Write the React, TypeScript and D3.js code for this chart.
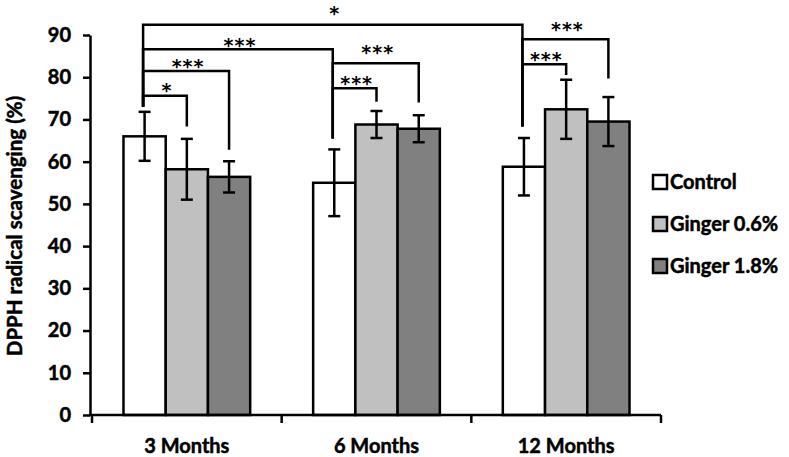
import { useEffect, useRef } from "react";
import * as d3 from "d3";

const categories = ["3 Months", "6 Months", "12 Months"];
const seriesNames = ["Control", "Ginger 0.6%", "Ginger 1.8%"];
const seriesColors = ["#ffffff", "#c0c0c0", "#808080"];

// mean and standard deviation per series, one value per category
const controlMean = [66.0, 55.0, 58.8];
const ginger06Mean = [58.2, 68.8, 72.4];
const ginger18Mean = [56.4, 67.8, 69.5];
const controlSd = [5.8, 7.9, 6.8];
const ginger06Sd = [7.2, 3.2, 7.0];
const ginger18Sd = [3.7, 3.2, 5.8];

const yTicks = [0, 10, 20, 30, 40, 50, 60, 70, 80, 90];

// significance brackets: [category, series] pairs, values in chart units
interface Bracket {
  from: [number, number];
  to: [number, number];
  level: number;
  fromDrop: number;
  toDrop: number;
  label: string;
  labelAt: number;
}

const brackets: Bracket[] = [
  { from: [0, 0], to: [2, 0], level: 92.4, fromDrop: 73.0, toDrop: 68.3, label: "*", labelAt: 95.9 },
  { from: [0, 0], to: [1, 0], level: 86.6, fromDrop: 73.0, toDrop: 65.5, label: "***", labelAt: 88.4 },
  { from: [0, 0], to: [0, 1], level: 75.6, fromDrop: 73.0, toDrop: 68.3, label: "*", labelAt: 77.8 },
  { from: [0, 0], to: [0, 2], level: 81.5, fromDrop: 73.0, toDrop: 62.8, label: "***", labelAt: 83.3 },
  { from: [1, 0], to: [1, 1], level: 77.4, fromDrop: 65.5, toDrop: 74.2, label: "***", labelAt: 79.3 },
  { from: [1, 0], to: [1, 2], level: 83.3, fromDrop: 65.5, toDrop: 74.0, label: "***", labelAt: 86.6 },
  { from: [2, 0], to: [2, 1], level: 83.1, fromDrop: 68.3, toDrop: 80.5, label: "***", labelAt: 85.0 },
  { from: [2, 0], to: [2, 2], level: 89.0, fromDrop: 68.3, toDrop: 79.7, label: "***", labelAt: 92.1 },
];

const width = 789;
const height = 457;
const FONT = "Lato, 'Open Sans', sans-serif";

export default function App() {
  const svgRef = useRef<SVGSVGElement>(null);

  useEffect(() => {
    if (!svgRef.current) return;
    const svg = d3.select(svgRef.current);
    svg.selectAll("*").remove();

    const means = [controlMean, ginger06Mean, ginger18Mean];
    const sds = [controlSd, ginger06Sd, ginger18Sd];

    const x0 = d3.scaleBand<string>().domain(categories).range([92, 661]);
    const bw = x0.bandwidth();
    const x1 = d3
      .scaleBand<string>()
      .domain(seriesNames)
      .range([bw * 0.166, bw * 0.834]);
    const y = d3.scaleLinear().domain([0, 90]).range([415, 35]);

    const barCenter = (c: number, s: number) =>
      (x0(categories[c]) ?? 0) + (x1(seriesNames[s]) ?? 0) + x1.bandwidth() / 2;

    // bars
    seriesNames.forEach((name, s) => {
      svg
        .append("g")
        .selectAll("rect")
        .data(categories)
        .join("rect")
        .attr("x", (c) => (x0(c) ?? 0) + (x1(name) ?? 0))
        .attr("y", (_, i) => y(means[s][i]))
        .attr("width", x1.bandwidth())
        .attr("height", (_, i) => y(0) - y(means[s][i]))
        .attr("fill", seriesColors[s])
        .attr("stroke", "#000")
        .attr("stroke-width", 2.5);
    });

    // error bars
    const eb = svg.append("g").attr("stroke", "#000").attr("stroke-width", 2.5);
    seriesNames.forEach((_, s) => {
      categories.forEach((_, c) => {
        const cx = barCenter(c, s);
        const hi = y(means[s][c] + sds[s][c]);
        const lo = y(means[s][c] - sds[s][c]);
        eb.append("line").attr("x1", cx).attr("x2", cx).attr("y1", hi).attr("y2", lo);
        eb.append("line").attr("x1", cx - 6).attr("x2", cx + 6).attr("y1", hi).attr("y2", hi);
        eb.append("line").attr("x1", cx - 6).attr("x2", cx + 6).attr("y1", lo).attr("y2", lo);
      });
    });

    // y axis
    const yAxis = svg
      .append("g")
      .attr("transform", "translate(90,0)")
      .call(d3.axisLeft(y).tickValues(yTicks).tickSize(7).tickSizeOuter(0).tickPadding(12));
    yAxis.select(".domain").attr("stroke-width", 2.5);
    yAxis.selectAll(".tick line").attr("stroke-width", 2.5);
    yAxis
      .selectAll(".tick text")
      .attr("font-family", FONT)
      .attr("font-weight", "bold")
      .attr("font-size", 20)
      .attr("fill", "#000")
      .attr("stroke", "#000")
      .attr("stroke-width", 0.5);

    // x axis with ticks at category boundaries
    const xg = svg.append("g").attr("stroke", "#000").attr("stroke-width", 2.5);
    xg.append("line").attr("x1", 89).attr("x2", 661).attr("y1", y(0)).attr("y2", y(0));
    [...categories.map((c) => x0(c) ?? 0), x0.range()[1]].forEach((tx) => {
      xg.append("line").attr("x1", tx).attr("x2", tx).attr("y1", y(0)).attr("y2", y(0) + 8);
    });
    svg
      .append("g")
      .selectAll("text")
      .data(categories)
      .join("text")
      .attr("x", (c) => (x0(c) ?? 0) + bw / 2)
      .attr("y", 453)
      .attr("text-anchor", "middle")
      .attr("font-family", FONT)
      .attr("font-weight", "bold")
      .attr("font-size", 20)
      .attr("stroke", "#000")
      .attr("stroke-width", 0.5)
      .text((c) => c);

    // y axis title
    svg
      .append("text")
      .attr("transform", "translate(22,226) rotate(-90)")
      .attr("text-anchor", "middle")
      .attr("font-family", FONT)
      .attr("font-weight", "bold")
      .attr("font-size", 20.5)
      .attr("stroke", "#000")
      .attr("stroke-width", 0.5)
      .text("DPPH radical scavenging (%)");

    // significance brackets
    const bg = svg.append("g");
    brackets.forEach((b) => {
      const xa = barCenter(b.from[0], b.from[1]) - 1.5;
      const xb = barCenter(b.to[0], b.to[1]) - (b.to[1] === 0 ? 1.5 : 0);
      const p = d3.path();
      p.moveTo(xa, y(b.fromDrop));
      p.lineTo(xa, y(b.level));
      p.lineTo(xb, y(b.level));
      p.lineTo(xb, y(b.toDrop));
      bg.append("path")
        .attr("d", p.toString())
        .attr("fill", "none")
        .attr("stroke", "#000")
        .attr("stroke-width", 2.5);
      bg.append("text")
        .attr("x", (xa + xb) / 2 + 2)
        .attr("y", y(b.labelAt) + 10)
        .attr("text-anchor", "middle")
        .attr("font-family", "'DejaVu Sans', sans-serif")
        .attr("font-weight", "bold")
        .attr("font-size", 19)
        .attr("letter-spacing", 1)
        .text(b.label);
    });

    // legend
    const lg = svg.append("g").attr("transform", "translate(653,182)");
    seriesNames.forEach((name, i) => {
      const row = lg.append("g").attr("transform", `translate(0,${i * 42})`);
      row
        .append("rect")
        .attr("x", 0)
        .attr("y", -7)
        .attr("width", 14)
        .attr("height", 14)
        .attr("fill", seriesColors[i])
        .attr("stroke", "#000")
        .attr("stroke-width", 2.5);
      row
        .append("text")
        .attr("x", 17)
        .attr("y", 7)
        .attr("font-family", FONT)
        .attr("font-weight", "bold")
        .attr("font-size", 20)
        .attr("stroke", "#000")
        .attr("stroke-width", 0.5)
        .text(name);
    });
  }, []);

  return (
    <svg
      ref={svgRef}
      width={width}
      height={height}
      style={{ position: "absolute", left: 0, top: 0, background: "#fff" }}
    />
  );
}
